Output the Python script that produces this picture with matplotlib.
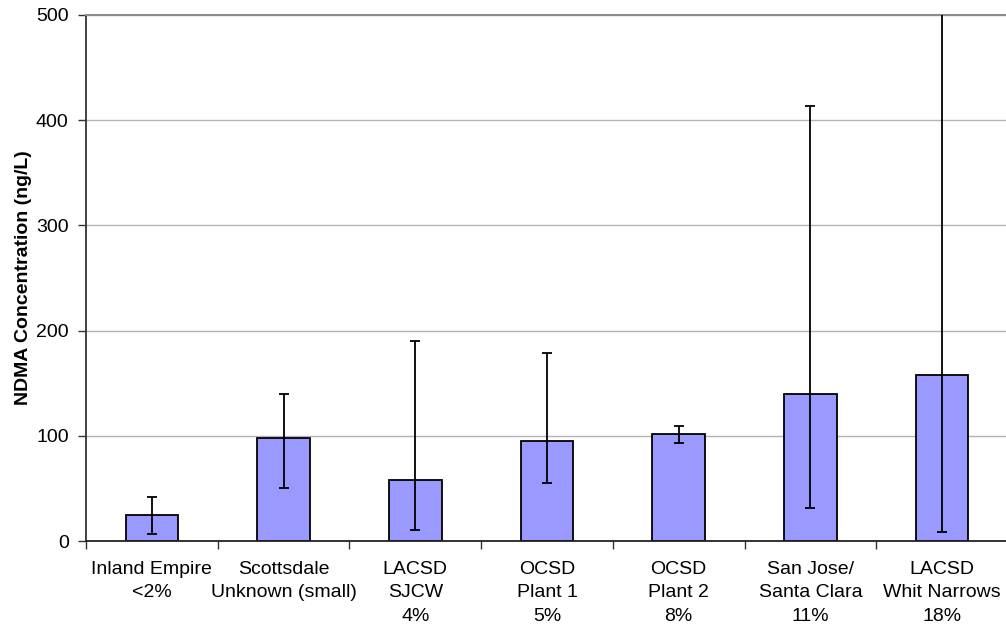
import numpy as np
import matplotlib
matplotlib.use('Agg')
import matplotlib.pyplot as plt

plt.rcParams['font.family'] = ['Liberation Sans', 'DejaVu Sans']

# values (ng/L)
sites = ['Inland Empire\n<2%', 'Scottsdale\nUnknown (small)', 'LACSD\nSJCW\n4%',
         'OCSD\nPlant 1\n5%', 'OCSD\nPlant 2\n8%', 'San Jose/\nSanta Clara\n11%',
         'LACSD\nWhit Narrows\n18%']
ndma_mean = [25, 98, 58, 95, 101.5, 140, 157.5]
ndma_low = [7, 50.5, 11, 55, 93.3, 31.8, 8.4]
ndma_high = [42, 140, 190, 179, 109.7, 413, 600]

x = np.arange(len(sites))
mean = np.array(ndma_mean)
yerr = [mean - np.array(ndma_low), np.array(ndma_high) - mean]

fig = plt.figure(figsize=(10.06, 6.28), dpi=100)
ax = fig.add_axes([86 / 1006, (628 - 541.2) / 628, 922 / 1006, 526.5 / 628])

ax.bar(x, mean, width=0.4, color='#9999ff', edgecolor='black', linewidth=1.3, zorder=2)
ax.errorbar(x, mean, yerr=yerr, fmt='none', ecolor='black', elinewidth=1.3,
            capsize=3.4, capthick=1.3, zorder=3)

ax.set_xlim(-0.5, len(sites) - 0.5)
ax.set_ylim(0, 500)
ax.set_yticks([0, 100, 200, 300, 400, 500])
ax.yaxis.grid(True, color='#b4b4b4', linewidth=1.0)
ax.set_axisbelow(True)

ax.set_xticks(x)
ax.set_xticklabels(sites, fontsize=14, linespacing=1.5)
ax.set_xticks(np.arange(-0.5, len(sites), 1), minor=True)
ax.tick_params(axis='x', which='major', length=0, pad=14)
ax.tick_params(axis='x', which='minor', length=6, width=1.0, color='#333333')
ax.tick_params(axis='y', length=6, width=1.0, pad=6.5, labelsize=14, color='#333333')

ax.set_ylabel('NDMA Concentration (ng/L)', fontsize=14, fontweight='bold', labelpad=3)

ax.spines['right'].set_visible(False)
ax.spines['top'].set_color('#8c8c8c')
ax.spines['top'].set_linewidth(1.5)
ax.spines['left'].set_color('#333333')
ax.spines['left'].set_linewidth(1.3)
ax.spines['bottom'].set_color('#222222')
ax.spines['bottom'].set_linewidth(1.3)

fig.savefig('out.png', dpi=100)
